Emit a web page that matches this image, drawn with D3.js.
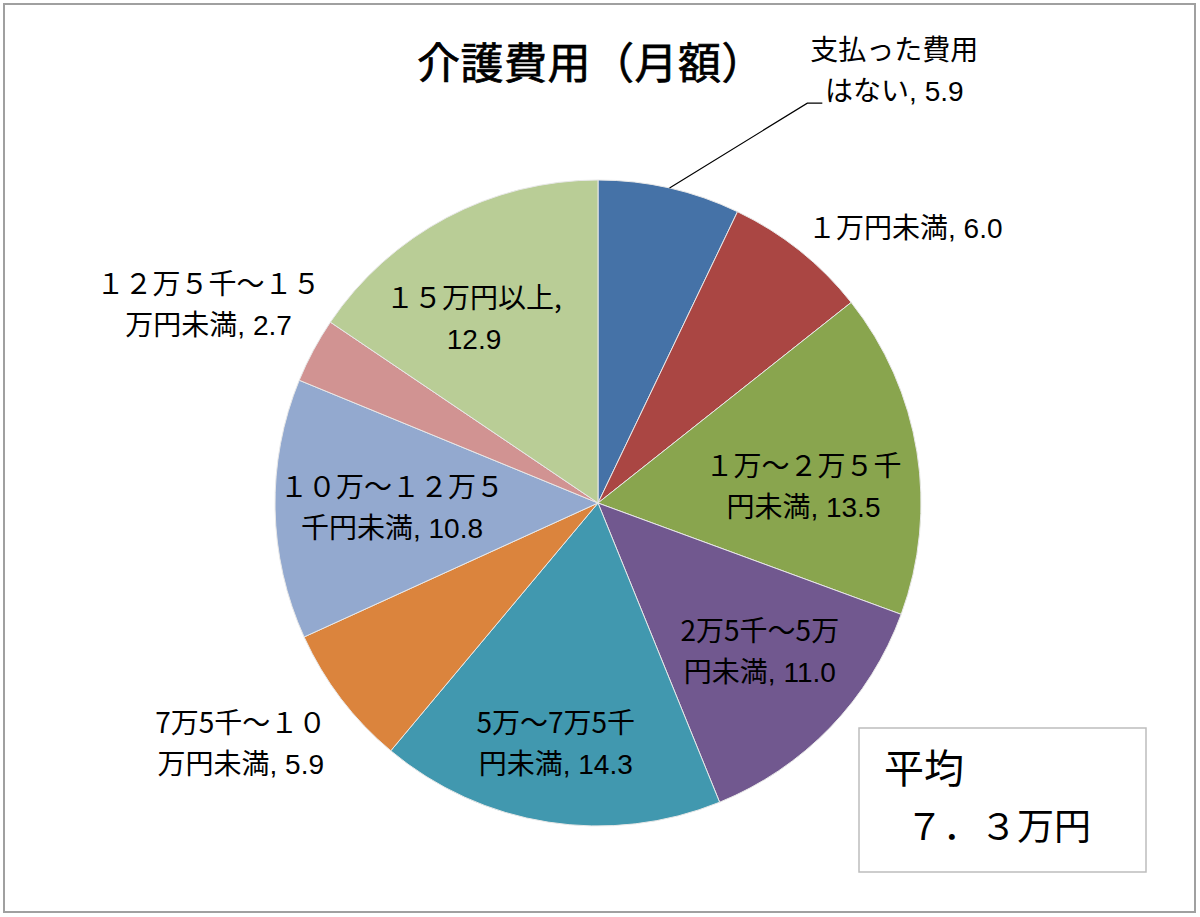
<!DOCTYPE html>
<html>
<head>
<meta charset="utf-8">
<script src="https://cdn.jsdelivr.net/npm/d3@7"></script>
<style>
body { margin: 0; background: #fff; }
</style>
</head>
<body>
<div id="myChart"></div>
<script>
//Global Variables
var w = 1200;
var h = 917;
var cx = 598;
var cy = 503;
var radius = 323;
var lineGap = 41;

//data
var title = "介護費用（月額）";
var categories = ["支払った費用はない", "１万円未満", "１万～２万５千円未満", "2万5千～5万円未満",
                  "5万～7万5千円未満", "7万5千～１０万円未満", "１０万～１２万５千円未満",
                  "１２万５千～１５万円未満", "１５万円以上"];
var values = [5.9, 6.0, 13.5, 11.0, 14.3, 5.9, 10.8, 2.7, 12.9];
//how each label is broken into lines (value goes on the last line)
var labelLines = [["支払った費用", "はない"], ["１万円未満"], ["１万～２万５千", "円未満"],
                  ["2万5千～5万", "円未満"], ["5万～7万5千", "円未満"], ["7万5千～１０", "万円未満"],
                  ["１０万～１２万５", "千円未満"], ["１２万５千～１５", "万円未満"], ["１５万円以上,", ""]];
var colors = ["#4572a7", "#aa4643", "#89a54e", "#71588f", "#4198af",
              "#db843d", "#93a9cf", "#d19392", "#b9cd96"];
var avgLabel = "平均";
var avgValue = "７．３万円";

//label placement: radius factor and angle shift (degrees) from slice middle
var labelK  = [1.624, 1.276, 0.638, 0.681, 0.755, 1.334, 0.638, 1.353, 0.687];
var labelDa = [21.6, 9.6, 4.6, -1.4, 1.1, 3.3, -0.3, -1.2, -6.0];

var svg = d3.select("#myChart")
            .append("svg")
            .attr("width", w)
            .attr("height", h);

//outer frame
svg.append("rect")
   .attr("x", 4).attr("y", 4)
   .attr("width", 1191).attr("height", 908)
   .attr("fill", "#fff")
   .attr("stroke", "#a0a0a0")
   .attr("stroke-width", 2);

//title
svg.append("text")
   .attr("x", 417)
   .attr("y", 79)
   .attr("font-family", "'Noto Sans CJK JP'")
   .attr("font-size", "43px")
   .attr("letter-spacing", "0.5px")
   .attr("fill", "#000")
   .attr("stroke", "#000")
   .attr("stroke-width", 0.7)
   .text(title);

var pie = d3.pie().sort(null).value(function(d) { return d; });
var arcs = pie(values);

var arc = d3.arc().innerRadius(0).outerRadius(radius);

var g = svg.append("g")
           .attr("transform", "translate(" + cx + "," + cy + ")");

g.selectAll("path")
 .data(arcs)
 .enter()
 .append("path")
 .attr("d", arc)
 .attr("fill", function(d, i) { return colors[i]; })
 .attr("stroke", "#e8e8e8")
 .attr("stroke-width", 1);

//polar helper (angle in radians, clockwise from top)
function polar(a, r) {
	return [Math.sin(a) * r, -Math.cos(a) * r];
}

function labelPos(d, i) {
	var mid = (d.startAngle + d.endAngle) / 2 + labelDa[i] * Math.PI / 180;
	return polar(mid, labelK[i] * radius);
}

//leader line for the first slice
var first = arcs[0];
var p0 = polar((first.startAngle + first.endAngle) / 2, radius);
var lp = labelPos(first, 0);
var knee = [lp[0] - 87, lp[1] + 33];
g.append("polyline")
 .attr("points", [p0, knee, [knee[0] + 15, knee[1]]].map(function(p) { return p.join(","); }).join(" "))
 .attr("fill", "none")
 .attr("stroke", "#000")
 .attr("stroke-width", 1.2);

//labels
var labels = g.selectAll("text.lbl")
 .data(arcs)
 .enter()
 .append("text")
 .attr("class", "lbl")
 .attr("text-anchor", "middle")
 .attr("font-family", "'Noto Sans CJK JP'")
 .attr("font-size", "28px")
 .attr("fill", "#000");

labels.each(function(d, i) {
	var t = d3.select(this);
	var p = labelPos(d, i);
	var lines = labelLines[i];
	var n = lines.length;
	lines.forEach(function(line, j) {
		var ts = t.append("tspan")
		          .attr("x", p[0])
		          .attr("y", p[1] + (j - (n - 1) / 2) * lineGap + 10)
		          .text(line);
		if (j == n - 1) {
			ts.append("tspan")
			  .attr("font-family", "'Liberation Sans Narrow', 'Liberation Sans'")
			  .attr("font-size", "28px")
			  .text((line ? ", " : "") + d3.format(".1f")(values[i]));
		}
	});
});

//average box
svg.append("rect")
   .attr("x", 859).attr("y", 728)
   .attr("width", 287).attr("height", 144)
   .attr("fill", "#fff")
   .attr("stroke", "#bdbdbd")
   .attr("stroke-width", 1.5);

svg.append("text")
   .attr("x", 884).attr("y", 783)
   .attr("font-family", "'Noto Sans CJK JP'")
   .attr("font-size", "40px")
   .attr("fill", "#000")
   .text(avgLabel);

svg.append("text")
   .attr("x", 906).attr("y", 840)
   .attr("font-family", "'Noto Sans CJK JP'")
   .attr("font-size", "37px")
   .attr("fill", "#000")
   .text(avgValue);
</script>
</body>
</html>
